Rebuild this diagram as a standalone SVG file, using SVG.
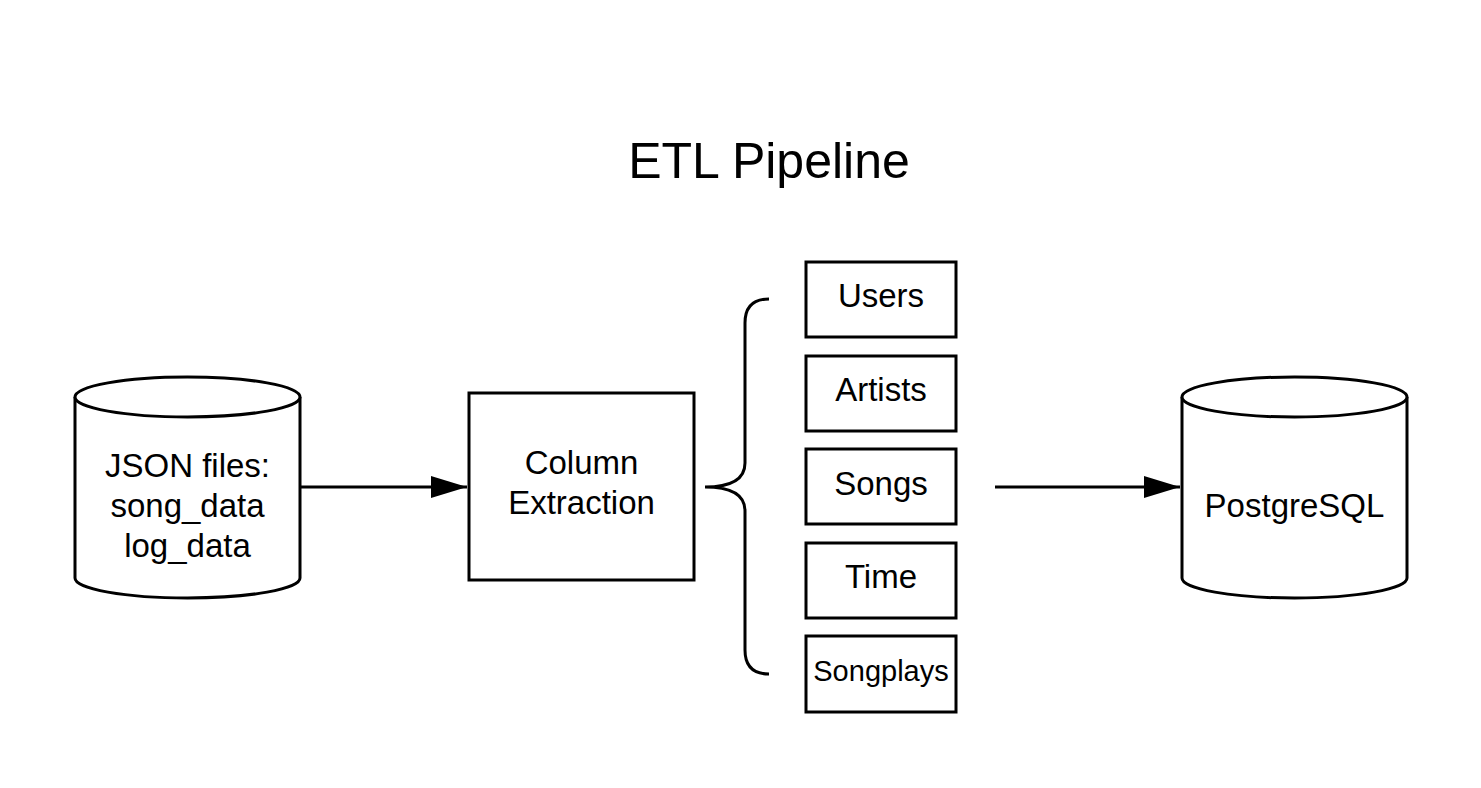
<svg xmlns="http://www.w3.org/2000/svg" width="1481" height="788" viewBox="0 0 1481 788">
<style>
.s{fill:#fff;stroke:#000;stroke-width:3}
.l{fill:none;stroke:#000;stroke-width:3}
.t{font-family:"Liberation Sans",Arial,sans-serif;font-size:33px;fill:#000;text-anchor:middle}
</style>
<defs>
<marker id="ah2" viewBox="0 0 36 22" refX="36" refY="11" markerWidth="36" markerHeight="22" orient="auto" markerUnits="userSpaceOnUse">
<path d="M0,0 L36,11 L0,22 Z" fill="#000"/>
</marker>
</defs>
<rect width="1481" height="788" fill="#fff"/>
<text x="769" y="178" class="t" style="font-size:50px">ETL Pipeline</text>
<g id="connectors">
<line x1="301" y1="487" x2="467" y2="487" class="l" marker-end="url(#ah2)"/>
<line x1="995" y1="487" x2="1180" y2="487" class="l" marker-end="url(#ah2)"/>
<path id="brace" class="l" d="M769,299 Q745,299 745,323 L745,463 Q745,487 705,487 Q745,487 745,511 L745,650 Q745,674 769,674"/>
</g>
<g id="json">
<path class="s" d="M75,397 L75,578 A112.5,20 0 0 0 300,578 L300,397"/>
<ellipse cx="187.5" cy="397" rx="112.5" ry="20" class="s"/>
<text x="187.5" y="477" class="t">JSON files:</text>
<text x="187.5" y="517" class="t">song_data</text>
<text x="187.5" y="557" class="t">log_data</text>
</g>
<g id="extract">
<rect x="469" y="393" width="225" height="187" class="s"/>
<text x="581.5" y="474" class="t">Column</text>
<text x="581.5" y="514" class="t">Extraction</text>
</g>
<g id="users"><rect x="806" y="262" width="150" height="75" class="s"/><text x="881" y="307" class="t">Users</text></g>
<g id="artists"><rect x="806" y="356" width="150" height="75" class="s"/><text x="881" y="401" class="t">Artists</text></g>
<g id="songs"><rect x="806" y="449" width="150" height="75" class="s"/><text x="881" y="495" class="t">Songs</text></g>
<g id="time"><rect x="806" y="543" width="150" height="75" class="s"/><text x="881" y="588" class="t">Time</text></g>
<g id="songplays"><rect x="806" y="636" width="150" height="76" class="s"/><text x="881" y="681" class="t" style="font-size:29px">Songplays</text></g>
<g id="postgres">
<path class="s" d="M1182,397 L1182,578 A112.5,20 0 0 0 1407,578 L1407,397"/>
<ellipse cx="1294.5" cy="397" rx="112.5" ry="20" class="s"/>
<text x="1294.5" y="517" class="t">PostgreSQL</text>
</g>
</svg>
